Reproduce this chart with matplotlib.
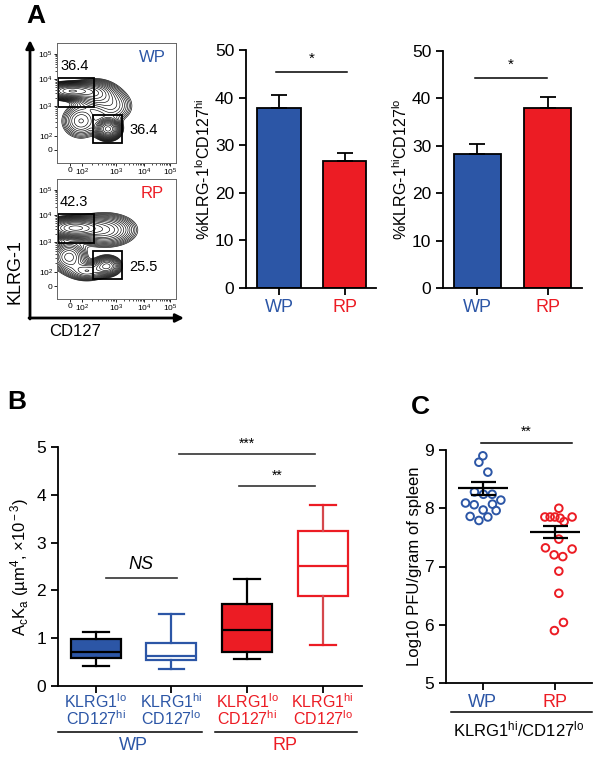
import numpy as np
import matplotlib
matplotlib.use("Agg")
import matplotlib.pyplot as plt
from matplotlib.patches import Rectangle, FancyArrowPatch

plt.rcParams['font.family'] = ['Liberation Sans', 'DejaVu Sans']
plt.rcParams['mathtext.fontset'] = 'custom'
plt.rcParams['mathtext.rm'] = 'Liberation Sans'
plt.rcParams['mathtext.it'] = 'Liberation Sans:italic'
plt.rcParams['mathtext.bf'] = 'Liberation Sans:bold'
plt.rcParams['axes.linewidth'] = 1.3

BLUE = '#2c56a6'
RED = '#ec1c24'
W, H = 604, 758

# ---------------- data ----------------
groups = ['WP', 'RP']
group_colors = [BLUE, RED]

# panel A: flow gates (upper-left = KLRG1hi CD127lo, lower-right = KLRG1lo CD127hi)
gate_ul_pct = ['36.4', '42.3']
gate_lr_pct = ['36.4', '25.5']

# panel A: bars
klrg_lo_mean = [37.8, 26.7]
klrg_lo_err = [2.8, 1.7]
klrg_hi_mean = [28.3, 38.0]
klrg_hi_err = [2.0, 2.4]

# panel B: box plot stats
box_line1 = ['KLRG1$^{\\rm lo}$', 'KLRG1$^{\\rm hi}$', 'KLRG1$^{\\rm lo}$', 'KLRG1$^{\\rm hi}$']
box_line2 = ['CD127$^{\\rm hi}$', 'CD127$^{\\rm lo}$', 'CD127$^{\\rm hi}$', 'CD127$^{\\rm lo}$']
box_whislo = [0.42, 0.36, 0.56, 0.85]
box_q1 = [0.59, 0.54, 0.71, 1.89]
box_med = [0.71, 0.62, 1.17, 2.52]
box_q3 = [0.98, 0.90, 1.71, 3.24]
box_whishi = [1.14, 1.50, 2.24, 3.79]

# panel C: log10 PFU per gram of spleen
wp_pfu = [8.90, 8.79, 8.62, 8.28, 8.24, 8.24, 8.09, 8.06, 7.97, 8.07, 8.14, 7.96, 7.86, 7.79, 7.85]
wp_xoff = [0.0, -0.055, 0.069, -0.116, 0.008, 0.129, -0.24, -0.12, 0.004, 0.133, 0.249, 0.184, -0.176, -0.055, 0.069]
rp_pfu = [8.00, 7.85, 7.85, 7.85, 7.83, 7.77, 7.85, 7.47, 7.32, 7.20, 7.17, 7.30, 6.92, 6.54, 5.90, 6.04]
rp_xoff = [0.051, -0.142, -0.069, -0.004, 0.069, 0.124, 0.235, 0.051, -0.134, -0.014, 0.106, 0.235, 0.051, 0.051, -0.01, 0.115]
pfu_mean = [8.34, 7.59]
pfu_sem = [0.11, 0.10]

# flow density blobs: (cx, cy, sx, sy, weight) in plot units
wp_blobs = [(14, 72, 13, 4, 1.0), (38, 69, 11, 7, 0.45), (51, 34, 6, 5, 1.1),
            (24, 42, 10, 9, 0.25), (55, 57, 11, 9, 0.2)]
rp_blobs = [(17, 71, 14, 5, 1.1), (48, 69, 15, 8, 0.45), (50, 33, 7, 5, 0.5),
            (12, 42, 9, 8, 0.35), (30, 28, 10, 5, 0.3)]


def rect(x0, y0, x1, y1):
    return [x0 / W, 1 - y1 / H, (x1 - x0) / W, (y1 - y0) / H]


fig = plt.figure(figsize=(W / 100, H / 100), dpi=100)

# ---------------- panel A: flow plots ----------------
flow_x_pos = [13, 25, 59, 87, 113]
flow_y_pos = [13, 27, 57, 84, 109]
flow_lab = ['0', '10$^2$', '10$^3$', '10$^4$', '10$^5$']


def minor_pos(major):
    out = []
    for a, b in zip(major[1:-1], major[2:]):
        for k in range(2, 10):
            out.append(a + np.log10(k) * (b - a))
    return out


gx, gy = np.meshgrid(np.linspace(0, 119, 240), np.linspace(0, 120, 240))
flow_specs = [(rect(57, 43, 176, 163), wp_blobs, 0),
              (rect(57, 179, 176, 299), rp_blobs, 1)]
for pos, blobs, i in flow_specs:
    ax = fig.add_axes(pos)
    z = np.zeros_like(gx)
    for cx, cy, sx, sy, w in blobs:
        z += w * np.exp(-((gx - cx) ** 2 / (2 * sx ** 2) + (gy - cy) ** 2 / (2 * sy ** 2)))
    levels = z.max() * np.logspace(-1.45, -0.04, 17)
    ax.contour(gx, gy, z, levels=levels, colors='black', linewidths=0.45)
    ax.add_patch(Rectangle((1, 56), 36, 29.5, fill=False, lw=1.3, ec='black'))
    ax.add_patch(Rectangle((35.5, 20.5), 29.5, 27.5, fill=False, lw=1.3, ec='black'))
    ax.text(3, 97.5, gate_ul_pct[i], fontsize=10.5, va='center')
    ax.text(72, 32.5, gate_lr_pct[i], fontsize=10.5, va='center')
    ax.text(95, 106, groups[i], fontsize=12, color=group_colors[i], ha='center', va='center')
    ax.set_xlim(0, 119)
    ax.set_ylim(0, 120)
    ax.set_xticks(flow_x_pos)
    ax.set_xticklabels(flow_lab)
    ax.set_yticks(flow_y_pos)
    ax.set_yticklabels(flow_lab)
    ax.set_xticks(minor_pos(flow_x_pos), minor=True)
    ax.set_yticks(minor_pos(flow_y_pos), minor=True)
    ax.tick_params(labelsize=6, length=2, width=0.6, pad=1)
    ax.tick_params(which='minor', length=1.2, width=0.5)
    for s in ax.spines.values():
        s.set_linewidth(0.7)
        s.set_color('#666666')

arrow_kw = dict(arrowstyle='-|>', lw=2, color='black', mutation_scale=12, shrinkA=0, shrinkB=0)
fig.add_artist(FancyArrowPatch((30 / W, 1 - 319 / H), (30 / W, 1 - 40 / H),
                               transform=fig.transFigure, **arrow_kw))
fig.add_artist(FancyArrowPatch((29 / W, 1 - 318 / H), (184 / W, 1 - 318 / H),
                               transform=fig.transFigure, **arrow_kw))
fig.text(15 / W, 1 - 272 / H, 'KLRG-1', rotation=90, fontsize=13, ha='center', va='center')
fig.text(75 / W, 1 - 331 / H, 'CD127', fontsize=12, ha='center', va='center')

# ---------------- panel A: bars ----------------
bar_specs = [(rect(246, 50, 376, 288), klrg_lo_mean, klrg_lo_err, (-0.504, 1.48), 45.4,
              '%KLRG-1$^{\\rm lo}$CD127$^{\\rm hi}$', (-0.05, 1.04)),
             (rect(443, 51, 582, 288), klrg_hi_mean, klrg_hi_err, (-0.49, 1.49), 44.4,
              '%KLRG-1$^{\\rm hi}$CD127$^{\\rm lo}$', (-0.04, 0.99))]
for pos, mean, err, xl, sig_y, ylab, sig_x in bar_specs:
    ax = fig.add_axes(pos)
    ax.bar([0, 1], mean, width=0.67, color=group_colors, edgecolor='black', linewidth=1.3,
           yerr=[[0, 0], err], capsize=6, error_kw=dict(elinewidth=1.3, capthick=1.3), zorder=2)
    ax.plot(sig_x, [sig_y, sig_y], color='black', lw=1.1, clip_on=False)
    ax.text(np.mean(sig_x), sig_y + 1.2, '*', fontsize=11, ha='center', va='bottom')
    ax.set_xlim(*xl)
    ax.set_ylim(0, 50)
    ax.set_yticks(range(0, 51, 10))
    ax.set_xticks([0, 1])
    ax.set_xticklabels(groups, fontsize=13)
    for t, c in zip(ax.get_xticklabels(), group_colors):
        t.set_color(c)
    ax.set_ylabel(ylab, fontsize=11.5, labelpad=1)
    ax.tick_params(axis='y', labelsize=12.5, length=5, width=1.3)
    ax.tick_params(axis='x', length=5, width=1.3, pad=3)
    ax.spines['top'].set_visible(False)
    ax.spines['right'].set_visible(False)

# ---------------- panel B: box plot ----------------
axb = fig.add_axes(rect(58, 447, 362, 686))
stats = []
for i in range(4):
    stats.append(dict(whislo=box_whislo[i], q1=box_q1[i], med=box_med[i],
                      q3=box_q3[i], whishi=box_whishi[i]))
bp = axb.bxp(stats, positions=[1, 2, 3, 4], widths=0.66, capwidths=0.34,
             patch_artist=True, showfliers=False)
face = [BLUE, 'white', RED, 'white']
edge = ['black', BLUE, 'black', RED]
whisk = ['black', BLUE, 'black', '#d5484c']
for i in range(4):
    bp['boxes'][i].set_facecolor(face[i])
    bp['boxes'][i].set_edgecolor(edge[i])
    bp['boxes'][i].set_linewidth(1.6)
    bp['medians'][i].set_color(edge[i])
    bp['medians'][i].set_linewidth(1.6)
    for j in (2 * i, 2 * i + 1):
        bp['whiskers'][j].set_color(whisk[i])
        bp['whiskers'][j].set_linewidth(1.6)
        bp['caps'][j].set_color(edge[i] if i == 3 else whisk[i])
        bp['caps'][j].set_linewidth(1.6)
axb.set_xlim(0.5, 4.52)
axb.set_ylim(0, 5)
axb.set_yticks(range(6))
axb.set_xticks([1, 2, 3, 4])
axb.set_xticklabels([])
axb.tick_params(axis='y', labelsize=12.5, length=5, width=1.3)
axb.tick_params(axis='x', length=5, width=1.3)
axb.spines['top'].set_visible(False)
axb.spines['right'].set_visible(False)
axb.set_ylabel('A$_{\\rm c}$K$_{\\rm a}$ (µm$^{\\rm 4}$, ×10$^{\\rm -3}$)', fontsize=12, labelpad=4)

tr = axb.get_xaxis_transform()
for i, c in enumerate([BLUE, BLUE, RED, RED]):
    axb.text(i + 1, -0.064, box_line1[i], color=c, fontsize=11.5, ha='center', va='center', transform=tr)
    axb.text(i + 1, -0.135, box_line2[i], color=c, fontsize=11.5, ha='center', va='center', transform=tr)

axb.plot([1.14, 2.07], [2.25, 2.25], color='#333333', lw=1.2)
axb.text(1.6, 2.36, 'NS', fontsize=13, style='italic', ha='center', va='bottom')
axb.plot([2.10, 3.90], [4.85, 4.85], color='#333333', lw=1.2, clip_on=False)
axb.text(3.0, 4.93, '***', fontsize=10, ha='center', va='bottom')
axb.plot([2.89, 3.90], [4.18, 4.18], color='#333333', lw=1.2)
axb.text(3.4, 4.26, '**', fontsize=10, ha='center', va='bottom')

axb.plot([0.5, 2.40], [-0.193, -0.193], color='black', lw=1.1, transform=tr, clip_on=False)
axb.plot([2.57, 4.45], [-0.193, -0.193], color='black', lw=1.1, transform=tr, clip_on=False)
axb.text(1.5, -0.249, 'WP', color=BLUE, fontsize=13, ha='center', va='center', transform=tr)
axb.text(3.5, -0.249, 'RP', color=RED, fontsize=13, ha='center', va='center', transform=tr)

# ---------------- panel C: scatter ----------------
axc = fig.add_axes(rect(446, 450, 592, 683))
axc.scatter(np.array(wp_xoff), wp_pfu, s=30, facecolors='none', edgecolors=BLUE, linewidths=1.4, zorder=3)
axc.scatter(1 + np.array(rp_xoff), rp_pfu, s=30, facecolors='none', edgecolors=RED, linewidths=1.4, zorder=3)
for i in range(2):
    axc.hlines(pfu_mean[i], i - 0.35, i + 0.35, color='black', lw=1.6, zorder=4)
    axc.errorbar(i, pfu_mean[i], yerr=pfu_sem[i], fmt='none', ecolor='black',
                 elinewidth=1.6, capsize=9, capthick=1.6, zorder=4)
axc.plot([-0.02, 1.23], [9.125, 9.125], color='black', lw=1.1, clip_on=False)
axc.text(0.6, 9.2, '**', fontsize=10, ha='center', va='bottom')
axc.set_xlim(-0.51, 1.51)
axc.set_ylim(5, 9)
axc.set_yticks(range(5, 10))
axc.set_xticks([0, 1])
axc.set_xticklabels(groups, fontsize=13)
for t, c in zip(axc.get_xticklabels(), group_colors):
    t.set_color(c)
axc.tick_params(axis='y', labelsize=12.5, length=5, width=1.3)
axc.tick_params(axis='x', length=5, width=1.3, pad=3)
axc.spines['top'].set_visible(False)
axc.spines['right'].set_visible(False)
axc.set_ylabel('Log10 PFU/gram of spleen', fontsize=12, labelpad=2)
trc = axc.get_xaxis_transform()
axc.plot([-0.44, 1.51], [-0.126, -0.126], color='black', lw=1.1, transform=trc, clip_on=False)
axc.text(0.5, -0.2, 'KLRG1$^{\\rm hi}$/CD127$^{\\rm lo}$', fontsize=12, ha='center', va='center',
         transform=trc)

# panel letters
fig.text(36 / W, 1 - 16 / H, 'A', fontsize=19, fontweight='bold', ha='center', va='center')
fig.text(17 / W, 1 - 402 / H, 'B', fontsize=19, fontweight='bold', ha='center', va='center')
fig.text(420 / W, 1 - 407 / H, 'C', fontsize=19, fontweight='bold', ha='center', va='center')

fig.savefig('out.png', dpi=100)
